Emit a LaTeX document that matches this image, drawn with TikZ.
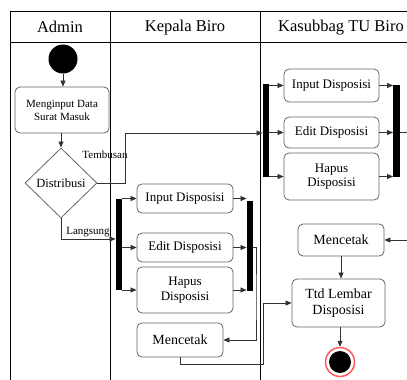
\documentclass[tikz,border=0pt]{standalone}
\usepackage{fontspec}
\setmainfont{Liberation Serif}
\usetikzlibrary{shapes.geometric,arrows.meta}
\begin{document}
\begin{tikzpicture}[x=1pt,y=-1pt,
  act/.style={draw=black!60,rounded corners=5pt,line width=0.8pt,align=center,inner sep=0pt,font=\fontsize{13}{14.5}\selectfont},
  bigact/.style={act,font=\fontsize{14}{16}\selectfont},
  bar/.style={fill=black,draw=none,inner sep=0pt,minimum width=6.5pt},
  flow/.style={draw=black!80,line width=0.7pt,-{Triangle[length=6pt,width=5pt]}},
  lane/.style={draw=black,line width=0.8pt},
  hdr/.style={font=\fontsize{16.5}{18}\selectfont,inner sep=0pt},
  lbl/.style={font=\fontsize{11}{12}\selectfont,inner sep=0pt}
]
\useasboundingbox (0,0) rectangle (407,380);
\clip (0,0) rectangle (407,380);
% swimlanes
\draw[lane] (10,380) -- (10,11) -- (420,11);
\draw[lane] (10,42) -- (420,42);
\draw[lane] (110,11) -- (110,380);
\draw[lane] (260,11) -- (260,380);
\node[hdr] (h1) at (60,27) {Admin};
\node[hdr] (h2) at (185,28) {Kepala Biro};
\node[hdr] (h3) at (341,28) {Kasubbag TU Biro};
% Admin lane
\node[circle,fill=black,minimum size=29pt,inner sep=0pt] (st) at (63,59) {};
\node[act,minimum width=94pt,minimum height=46pt,font=\fontsize{11}{13}\selectfont] (mi) at (62,110) {Menginput Data\\Surat Masuk};
\node[diamond,draw=black!60,line width=0.8pt,minimum width=72pt,minimum height=70pt,inner sep=0pt,font=\fontsize{12.5}{14}\selectfont] (di) at (61,183) {Distribusi};
\node[lbl] (lt) at (105,155) {Tembusan};
\node[lbl] (ll) at (88,232) {Langsung};
% Kepala Biro lane
\node[bar,minimum height=91pt] (fk) at (119,244.5) {};
\node[act,minimum width=96pt,minimum height=29pt] (ki) at (185,198.5) {Input Disposisi};
\node[act,minimum width=96pt,minimum height=29pt] (ke) at (185,247.5) {Edit Disposisi};
\node[act,minimum width=96pt,minimum height=46pt] (kh) at (185,290) {Hapus\\Disposisi};
\node[bar,minimum height=90pt] (jk) at (250,246) {};
\node[bigact,minimum width=86pt,minimum height=34pt] (mk) at (180,340) {Mencetak};
% Kasubbag lane
\node[bar,minimum height=93pt] (fs) at (266,130) {};
\node[act,minimum width=95pt,minimum height=33pt] (si) at (331.5,85.5) {Input Disposisi};
\node[act,minimum width=95pt,minimum height=31pt] (se) at (331.5,132.5) {Edit Disposisi};
\node[act,minimum width=95pt,minimum height=47pt] (sh) at (331.5,176.5) {Hapus\\Disposisi};
\node[bar,minimum height=92pt] (js) at (396.5,131) {};
\node[bigact,minimum width=86pt,minimum height=32pt] (ms) at (341,240) {Mencetak};
\node[bigact,minimum width=93pt,minimum height=48pt] (tt) at (338.5,303) {Ttd Lembar\\Disposisi};
\node[circle,draw=red!65,line width=1.5pt,fill=white,minimum size=29pt,inner sep=0pt] (en) at (340,362) {};
\node[circle,fill=black,minimum size=22pt,inner sep=0pt] (ei) at (en) {};
% coordinates for bends
\coordinate (tb) at (125,133);
\coordinate (lg) at (0,239);
\coordinate (kj) at (256,300);
\coordinate (m1) at (263,364);
\coordinate (r1) at (415,200);
% connectors
\draw[flow] (st.south) -- (st.south |- mi.north);
\draw[flow] (di.north |- mi.south) -- (di.north);
\draw[flow] (di.east) -| (tb) -- (tb -| fs.west);
\draw[flow] (di.south) |- (fk.west |- lg);
\foreach \b in {ki,ke,kh} {
  \draw[flow] (fk.east |- \b.west) -- (\b.west);
  \draw[flow] (\b.east) -- (\b.east -| jk.west);
}
\foreach \b in {si,se,sh} {
  \draw[flow] (fs.east |- \b.west) -- (\b.west);
  \draw[flow] (\b.east) -- (\b.east -| js.west);
}
\draw[flow] (jk.east |- ke.east) -| (kj) |- (mk.east);
\draw[flow] (mk.south) |- (m1) |- (tt.west);
\draw[flow] (js.east |- se.east) -| (r1) |- (ms.east);
\draw[flow] (ms.south) -- (ms.south |- tt.north);
\draw[flow] (en.north |- tt.south) -- (en.north);
\end{tikzpicture}
\end{document}
